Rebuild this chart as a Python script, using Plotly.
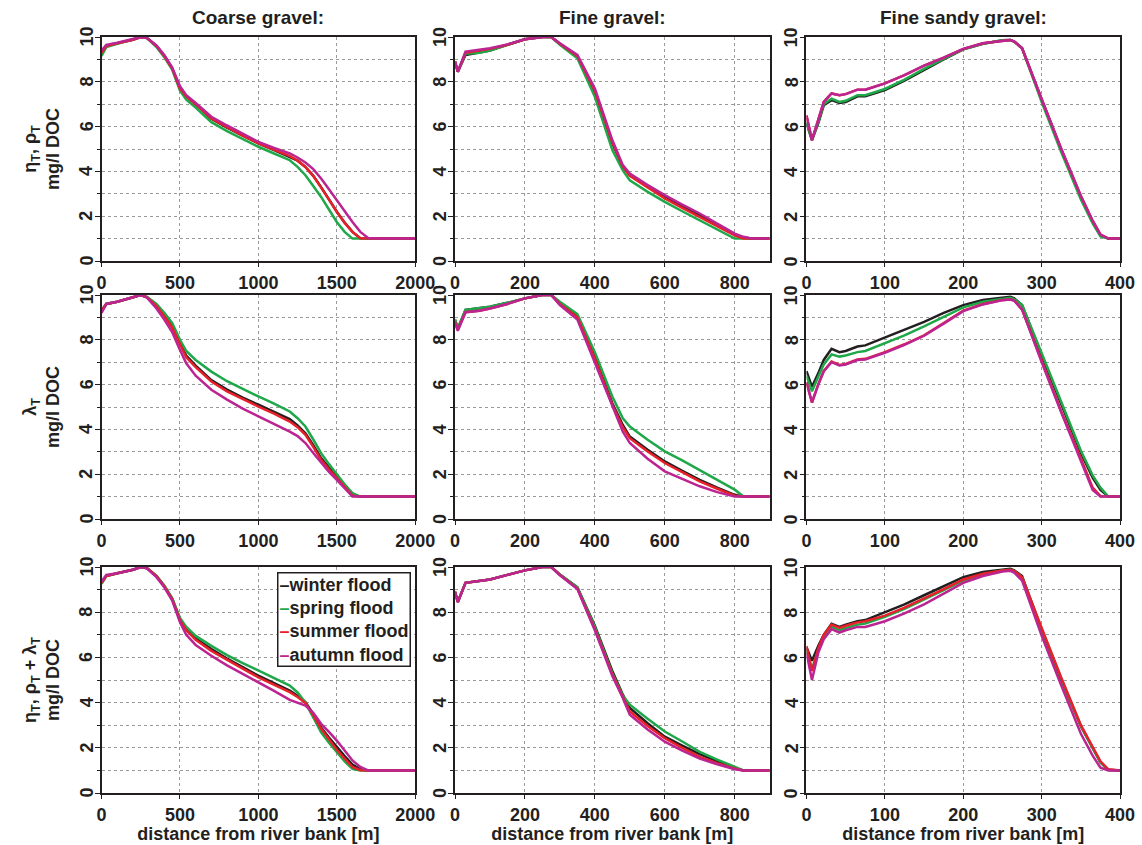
import plotly.graph_objects as go

# ---------------- data ----------------
series_names = ["winter flood", "spring flood", "summer flood", "autumn flood"]
series_colors = ["#231f20", "#1fa84a", "#e8202a", "#bb2491"]

col_titles = ["Coarse gravel:", "Fine gravel:", "Fine sandy gravel:"]
row_titles = ["η<sub>T</sub>, ρ<sub>T</sub><br>mg/l DOC",
              "λ<sub>T</sub><br>mg/l DOC",
              "η<sub>T</sub>, ρ<sub>T</sub> + λ<sub>T</sub><br>mg/l DOC"]
x_title = "distance from river bank [m]"
y_tick_values = [0, 2, 4, 6, 8, 10]
y_tick_labels = ["0", "2", "4", "6", "8", "10"]

x_coarse = [0, 30, 100, 200, 250, 290, 350, 400, 450, 500, 540, 600, 700, 800, 900, 1000,
            1100, 1200, 1250, 1300, 1350, 1400, 1450, 1500, 1550, 1600, 1650, 1700, 1750, 2000]
x_fine = [0, 8, 30, 70, 100, 150, 200, 250, 275, 300, 350, 400, 450, 480, 500, 550, 600,
          650, 700, 750, 800, 825, 850, 900]
x_sandy = [0, 7, 15, 22, 32, 42, 50, 65, 75, 100, 125, 150, 175, 200, 225, 250, 260, 265,
           275, 300, 325, 350, 365, 375, 385, 400]

coarse_eta_winter = [9.3, 9.6, 9.72, 9.88, 10.0, 9.95, 9.6, 9.15, 8.6, 7.7, 7.35, 7.0, 6.35, 5.95, 5.6, 5.25,
                     4.95, 4.66, 4.48, 4.2, 3.8, 3.3, 2.75, 2.2, 1.72, 1.3, 1.02, 1.0, 1.0, 1.0]
coarse_eta_spring = [9.15, 9.55, 9.7, 9.88, 10.0, 9.95, 9.55, 9.1, 8.55, 7.6, 7.2, 6.85, 6.2, 5.8, 5.45, 5.1,
                     4.8, 4.5, 4.2, 3.83, 3.35, 2.86, 2.3, 1.74, 1.3, 1.0, 1.0, 1.0, 1.0, 1.0]
coarse_eta_summer = [9.3, 9.6, 9.72, 9.88, 10.0, 9.95, 9.6, 9.15, 8.6, 7.7, 7.35, 7.0, 6.36, 5.97, 5.6, 5.25,
                     4.97, 4.68, 4.48, 4.2, 3.8, 3.3, 2.75, 2.2, 1.7, 1.3, 1.02, 1.0, 1.0, 1.0]
coarse_eta_autumn = [9.4, 9.65, 9.74, 9.9, 10.0, 9.95, 9.62, 9.2, 8.65, 7.8, 7.4, 7.05, 6.44, 6.05, 5.68, 5.32,
                     5.05, 4.8, 4.62, 4.4, 4.1, 3.68, 3.2, 2.71, 2.2, 1.74, 1.3, 1.03, 1.0, 1.0]

coarse_lam_winter = [9.3, 9.6, 9.7, 9.9, 10.0, 9.9, 9.5, 9.1, 8.6, 7.85, 7.3, 6.85, 6.2, 5.78, 5.42, 5.1,
                     4.78, 4.46, 4.18, 3.83, 3.3, 2.72, 2.3, 1.9, 1.48, 1.08, 1.0, 1.0, 1.0, 1.0]
coarse_lam_spring = [9.3, 9.6, 9.7, 9.9, 10.0, 9.92, 9.6, 9.2, 8.75, 8.0, 7.5, 7.1, 6.58, 6.15, 5.8, 5.47,
                     5.15, 4.8, 4.5, 4.13, 3.55, 2.94, 2.45, 1.98, 1.55, 1.16, 1.0, 1.0, 1.0, 1.0]
coarse_lam_summer = [9.3, 9.6, 9.7, 9.9, 10.0, 9.9, 9.5, 9.05, 8.55, 7.8, 7.22, 6.78, 6.14, 5.7, 5.35, 5.02,
                     4.7, 4.35, 4.1, 3.76, 3.22, 2.64, 2.22, 1.83, 1.42, 1.04, 1.0, 1.0, 1.0, 1.0]
coarse_lam_autumn = [9.2, 9.6, 9.7, 9.9, 10.0, 9.88, 9.4, 8.9, 8.35, 7.55, 6.95, 6.4, 5.77, 5.33, 4.93, 4.58,
                     4.25, 3.9, 3.7, 3.39, 2.95, 2.5, 2.1, 1.75, 1.35, 1.0, 1.0, 1.0, 1.0, 1.0]

coarse_sum_winter = [9.3, 9.6, 9.72, 9.88, 10.0, 9.95, 9.6, 9.15, 8.6, 7.7, 7.28, 6.85, 6.37, 5.95, 5.57, 5.19,
                     4.86, 4.53, 4.3, 4.02, 3.5, 2.9, 2.45, 2.03, 1.63, 1.26, 1.05, 1.0, 1.0, 1.0]
coarse_sum_spring = [9.25, 9.6, 9.72, 9.88, 10.0, 9.95, 9.62, 9.18, 8.62, 7.75, 7.35, 6.95, 6.51, 6.1, 5.75, 5.41,
                     5.08, 4.75, 4.45, 4.0, 3.35, 2.69, 2.22, 1.81, 1.4, 1.07, 1.0, 1.0, 1.0, 1.0]
coarse_sum_summer = [9.3, 9.6, 9.72, 9.88, 10.0, 9.95, 9.6, 9.15, 8.58, 7.65, 7.2, 6.78, 6.29, 5.88, 5.5, 5.12,
                     4.79, 4.46, 4.25, 3.98, 3.45, 2.84, 2.38, 1.91, 1.52, 1.15, 1.01, 1.0, 1.0, 1.0]
coarse_sum_autumn = [9.35, 9.65, 9.72, 9.88, 10.0, 9.93, 9.55, 9.1, 8.52, 7.55, 7.0, 6.55, 6.07, 5.65, 5.27, 4.9,
                     4.52, 4.12, 4.0, 3.87, 3.55, 3.06, 2.7, 2.32, 1.88, 1.44, 1.15, 1.0, 1.0, 1.0]

fine_eta_winter = [8.9, 8.45, 9.2, 9.3, 9.4, 9.65, 9.9, 10.0, 10.0, 9.7, 9.15, 7.55, 5.25, 4.2, 3.85, 3.35,
                   2.9, 2.45, 2.04, 1.6, 1.2, 1.05, 1.0, 1.0]
fine_eta_spring = [8.9, 8.45, 9.25, 9.3, 9.4, 9.65, 9.9, 10.0, 10.0, 9.65, 9.05, 7.33, 4.95, 4.05, 3.6, 3.1,
                   2.64, 2.22, 1.82, 1.4, 1.0, 1.0, 1.0, 1.0]
fine_eta_summer = [8.9, 8.45, 9.3, 9.38, 9.47, 9.65, 9.9, 10.0, 10.0, 9.7, 9.15, 7.6, 5.3, 4.22, 3.8, 3.3,
                   2.79, 2.37, 1.97, 1.55, 1.15, 1.0, 1.0, 1.0]
fine_eta_autumn = [8.9, 8.45, 9.35, 9.42, 9.5, 9.67, 9.9, 10.0, 10.0, 9.72, 9.2, 7.7, 5.4, 4.28, 3.9, 3.4,
                   2.94, 2.52, 2.12, 1.67, 1.22, 1.08, 1.0, 1.0]

fine_lam_winter = [8.9, 8.5, 9.33, 9.4, 9.48, 9.65, 9.85, 10.0, 10.0, 9.65, 9.05, 7.25, 5.17, 4.2, 3.68, 3.1,
                   2.57, 2.15, 1.75, 1.4, 1.08, 1.0, 1.0, 1.0]
fine_lam_spring = [8.9, 8.5, 9.33, 9.4, 9.48, 9.65, 9.85, 10.0, 10.0, 9.7, 9.15, 7.45, 5.47, 4.5, 4.13, 3.55,
                   3.02, 2.62, 2.2, 1.75, 1.31, 1.0, 1.0, 1.0]
fine_lam_summer = [8.8, 8.45, 9.23, 9.3, 9.4, 9.6, 9.85, 10.0, 10.0, 9.6, 9.0, 7.15, 5.1, 4.1, 3.61, 3.02,
                   2.5, 2.08, 1.68, 1.35, 1.04, 1.0, 1.0, 1.0]
fine_lam_autumn = [8.75, 8.4, 9.23, 9.3, 9.4, 9.6, 9.85, 10.0, 10.0, 9.55, 8.9, 7.0, 5.02, 3.9, 3.39, 2.7,
                   2.13, 1.78, 1.46, 1.2, 1.0, 1.0, 1.0, 1.0]

fine_sum_winter = [8.9, 8.45, 9.3, 9.38, 9.45, 9.65, 9.85, 10.0, 10.0, 9.67, 9.1, 7.4, 5.4, 4.35, 3.76, 3.1,
                   2.49, 2.1, 1.72, 1.4, 1.1, 1.0, 1.0, 1.0]
fine_sum_spring = [8.9, 8.45, 9.3, 9.38, 9.45, 9.65, 9.85, 10.0, 10.0, 9.67, 9.1, 7.35, 5.3, 4.3, 3.91, 3.3,
                   2.72, 2.28, 1.82, 1.48, 1.15, 1.0, 1.0, 1.0]
fine_sum_summer = [8.9, 8.45, 9.3, 9.38, 9.45, 9.65, 9.85, 10.0, 10.0, 9.65, 9.05, 7.25, 5.25, 4.25, 3.61, 2.98,
                   2.42, 2.0, 1.6, 1.32, 1.08, 1.0, 1.0, 1.0]
fine_sum_autumn = [8.9, 8.45, 9.3, 9.38, 9.45, 9.65, 9.85, 10.0, 10.0, 9.63, 9.03, 7.2, 5.18, 4.2, 3.46, 2.82,
                   2.27, 1.88, 1.52, 1.27, 1.05, 1.0, 1.0, 1.0]

sandy_eta_winter = [6.15, 5.4, 6.15, 6.95, 7.18, 7.05, 7.1, 7.35, 7.35, 7.63, 8.05, 8.54, 9.0, 9.45, 9.7, 9.85,
                    9.87, 9.8, 9.5, 7.2, 4.95, 2.85, 1.75, 1.15, 1.0, 1.0]
sandy_eta_spring = [6.2, 5.4, 6.2, 7.0, 7.25, 7.1, 7.15, 7.4, 7.4, 7.68, 8.1, 8.58, 9.02, 9.45, 9.7, 9.85,
                    9.87, 9.8, 9.5, 7.1, 4.85, 2.75, 1.68, 1.1, 1.0, 1.0]
sandy_eta_summer = [6.5, 5.4, 6.3, 7.1, 7.48, 7.4, 7.45, 7.65, 7.65, 7.93, 8.3, 8.72, 9.08, 9.47, 9.72, 9.85,
                    9.87, 9.8, 9.5, 7.22, 5.0, 2.9, 1.8, 1.18, 1.0, 1.0]
sandy_eta_autumn = [6.5, 5.4, 6.3, 7.1, 7.48, 7.4, 7.45, 7.65, 7.65, 7.93, 8.3, 8.72, 9.08, 9.47, 9.72, 9.85,
                    9.87, 9.8, 9.5, 7.22, 5.0, 2.9, 1.8, 1.18, 1.0, 1.0]

sandy_lam_winter = [6.6, 5.9, 6.5, 7.1, 7.6, 7.45, 7.5, 7.7, 7.75, 8.1, 8.45, 8.8, 9.2, 9.55, 9.78, 9.9,
                    9.92, 9.85, 9.55, 7.3, 5.1, 2.95, 1.85, 1.3, 1.0, 1.0]
sandy_lam_spring = [6.4, 5.7, 6.35, 6.9, 7.35, 7.25, 7.3, 7.45, 7.5, 7.85, 8.2, 8.6, 9.02, 9.45, 9.7, 9.85,
                    9.88, 9.82, 9.55, 7.4, 5.2, 3.05, 1.95, 1.4, 1.0, 1.0]
sandy_lam_summer = [6.1, 5.2, 6.0, 6.6, 7.03, 6.88, 6.92, 7.12, 7.15, 7.45, 7.8, 8.2, 8.75, 9.3, 9.6, 9.78,
                    9.8, 9.75, 9.35, 7.05, 4.8, 2.7, 1.4, 1.02, 1.0, 1.0]
sandy_lam_autumn = [6.1, 5.2, 6.0, 6.6, 7.0, 6.85, 6.9, 7.1, 7.12, 7.42, 7.77, 8.18, 8.72, 9.28, 9.58, 9.77,
                    9.8, 9.75, 9.35, 7.0, 4.75, 2.6, 1.3, 1.0, 1.0, 1.0]

sandy_sum_winter = [6.45, 5.85, 6.5, 7.0, 7.49, 7.35, 7.45, 7.6, 7.65, 8.0, 8.35, 8.75, 9.15, 9.55, 9.78, 9.9,
                    9.92, 9.85, 9.6, 7.2, 5.0, 2.95, 1.95, 1.35, 1.03, 1.0]
sandy_sum_spring = [6.3, 5.5, 6.3, 6.9, 7.35, 7.2, 7.3, 7.45, 7.5, 7.8, 8.15, 8.55, 8.98, 9.4, 9.68, 9.85,
                    9.88, 9.82, 9.55, 7.25, 5.05, 2.95, 1.95, 1.35, 1.02, 1.0]
sandy_sum_summer = [6.5, 5.4, 6.4, 7.0, 7.45, 7.3, 7.4, 7.55, 7.6, 7.85, 8.2, 8.6, 9.02, 9.45, 9.7, 9.85,
                    9.88, 9.82, 9.55, 7.3, 5.1, 3.0, 2.0, 1.4, 1.05, 1.0]
sandy_sum_autumn = [6.2, 5.0, 6.2, 6.8, 7.25, 7.1, 7.2, 7.35, 7.35, 7.6, 7.95, 8.35, 8.82, 9.3, 9.6, 9.8,
                    9.83, 9.75, 9.4, 6.95, 4.75, 2.62, 1.65, 1.12, 1.0, 1.0]

x_grids = [x_coarse, x_fine, x_sandy]
panels = [
    [[coarse_eta_winter, coarse_eta_spring, coarse_eta_summer, coarse_eta_autumn],
     [fine_eta_winter, fine_eta_spring, fine_eta_summer, fine_eta_autumn],
     [sandy_eta_winter, sandy_eta_spring, sandy_eta_summer, sandy_eta_autumn]],
    [[coarse_lam_winter, coarse_lam_spring, coarse_lam_summer, coarse_lam_autumn],
     [fine_lam_winter, fine_lam_spring, fine_lam_summer, fine_lam_autumn],
     [sandy_lam_winter, sandy_lam_spring, sandy_lam_summer, sandy_lam_autumn]],
    [[coarse_sum_winter, coarse_sum_spring, coarse_sum_summer, coarse_sum_autumn],
     [fine_sum_winter, fine_sum_spring, fine_sum_summer, fine_sum_autumn],
     [sandy_sum_winter, sandy_sum_spring, sandy_sum_summer, sandy_sum_autumn]],
]
x_ranges = [[0, 2000], [0, 900], [0, 400]]
x_dticks = [500, 200, 100]

# ---------------- layout ----------------
FIG_W, H = 1162, 845      # drawn page width (screenshot maps it onto 1142 px)
REF_W = 1142              # target picture width used for the domain fractions
FONT = "Liberation Sans, Arial, sans-serif"
TXT = "#231f20"
col_px = [(97, 412), (452, 768), (805, 1120)]
row_px = [(37, 261), (295, 519), (567, 793)]

fig = go.Figure()
annotations = []
layout = dict(
    width=FIG_W, height=H, autosize=False, margin=dict(l=0, r=0, t=0, b=0),
    paper_bgcolor="white", plot_bgcolor="white",
    font=dict(family=FONT, size=18, color=TXT, weight="bold"),
    showlegend=False,
)

grid_col = "#9a9a9a"
for r in range(3):
    for c in range(3):
        k = r * 3 + c + 1
        xa = "xaxis" if k == 1 else f"xaxis{k}"
        ya = "yaxis" if k == 1 else f"yaxis{k}"
        xs = "x" if k == 1 else f"x{k}"
        ys = "y" if k == 1 else f"y{k}"
        x0, x1 = col_px[c]
        y0, y1 = row_px[r]
        xaxis = dict(
            domain=[x0 / REF_W, x1 / REF_W], anchor=ys, range=x_ranges[c], dtick=x_dticks[c], tick0=0,
            showline=True, linecolor=TXT, linewidth=1.8, mirror=True,
            ticks="outside", ticklen=4, tickwidth=1.2, tickcolor=TXT,
            showgrid=True, gridcolor=grid_col, griddash="dot", gridwidth=1,
            zeroline=False, tickfont=dict(size=18, weight="bold"),
        )
        if r == 2:
            xaxis["title"] = dict(text=x_title, font=dict(size=18, weight="bold"), standoff=2)
        yaxis = dict(
            domain=[1 - y1 / H, 1 - y0 / H], anchor=xs, range=[0, 10],
            tickmode="array", tickvals=y_tick_values, showticklabels=False,
            showline=True, linecolor=TXT, linewidth=1.8, mirror=True,
            ticks="outside", ticklen=5, tickwidth=1.2, tickcolor=TXT,
            showgrid=True, gridcolor=grid_col, griddash="dot", gridwidth=1,
            minor=dict(dtick=1, tick0=0, ticks="outside", ticklen=3, tickcolor=TXT,
                       showgrid=True, gridcolor=grid_col, griddash="dot", gridwidth=1),
            zeroline=False,
        )
        if c == 0:
            yaxis["title"] = dict(text=row_titles[r], font=dict(size=18, weight="bold"), standoff=30)
        layout[xa] = xaxis
        layout[ya] = yaxis
        for s in range(4):
            fig.add_trace(go.Scatter(
                x=x_grids[c], y=panels[r][c][s], mode="lines",
                line=dict(color=series_colors[s], width=2.5),
                name=series_names[s], legendgroup=series_names[s],
                showlegend=False, xaxis=xs, yaxis=ys,
            ))
        for v, lab in zip(y_tick_values, y_tick_labels):
            annotations.append(dict(
                text=lab, x=0, xref=f"{xs} domain", y=v, yref=ys,
                xanchor="center", yanchor="middle", xshift=-15, textangle=-90,
                showarrow=False, font=dict(size=18, weight="bold", family=FONT, color=TXT),
            ))

for c in range(3):
    x0, x1 = col_px[c]
    annotations.append(dict(
        text=col_titles[c], x=(x0 + x1) / 2 / REF_W, y=1 - 18 / H, xref="paper", yref="paper",
        xanchor="center", yanchor="middle", showarrow=False,
        font=dict(size=19, weight="bold", family=FONT, color=TXT),
    ))

legend_text = "<br>".join(
    f"<span style='color:{col}'>–</span>{name}" for name, col in zip(series_names, series_colors)
)
annotations.append(dict(
    text=legend_text, x=408 / REF_W, y=1 - 572 / H, xref="paper", yref="paper",
    xanchor="right", yanchor="top", align="left", showarrow=False,
    bgcolor="white", bordercolor=TXT, borderwidth=1.5, borderpad=1,
    font=dict(size=18, weight="bold", family=FONT, color=TXT),
))

layout["annotations"] = annotations
fig.update_layout(**layout)
fig.write_html(
    "out.html",
    config={"responsive": False, "displayModeBar": False},
    post_script=("document.documentElement.style.margin='0px';"
                 "document.body.style.margin='0px';"
                 "document.documentElement.style.overflow='hidden';"
                 "document.body.style.overflow='hidden';"),
)
